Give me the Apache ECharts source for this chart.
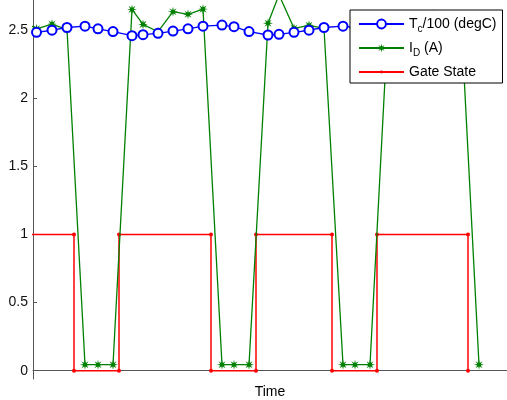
<!DOCTYPE html>
<html>
<head>
<meta charset="utf-8">
<script src="https://cdn.jsdelivr.net/npm/echarts@6/dist/echarts.min.js"></script>
<style>
  html, body { margin: 0; padding: 0; background: #fff; }
  #chart { width: 507px; height: 400px; }
</style>
</head>
<body>
<div id="chart"></div>
<script>
// sample times (arbitrary units)
var time = [-1.1, 0.35, 1.9, 3.4, 5.2, 6.5, 8.0, 9.9, 11.0, 12.5, 14.0, 15.5, 17.0, 18.9, 20.1, 21.6,
            23.5, 24.6, 26.1, 27.6, 29.1, 31.0, 32.2, 33.7, 35.5, 37.0, 38.5, 40.0, 41.4, 42.8, 44.6];
var tc = [2.47, 2.485, 2.50, 2.52, 2.53, 2.51, 2.49, 2.46, 2.467, 2.477, 2.494, 2.51, 2.53, 2.538, 2.526, 2.49,
          2.465, 2.47, 2.485, 2.50, 2.52, 2.53, 2.52, 2.50, 2.48, 2.47, 2.49, 2.51, 2.52, 2.50, 2.48];
var id = [2.57, 2.51, 2.545, 2.505, 0.044, 0.044, 0.044, 2.653, 2.543, 2.489, 2.636, 2.617, 2.655, 0.044, 0.044, 0.044,
          2.551, 2.76, 2.514, 2.536, 2.514, 0.044, 0.044, 0.044, 2.56, 2.6, 2.55, 2.62, 2.58, 2.6, 0.044];
var gateTime = [-1, 4.1, 4.1, 8.6, 8.6, 17.8, 17.8, 22.3, 22.3, 29.9, 29.9, 34.4, 34.4, 43.5, 43.5];
var gateState = [1, 1, 0, 0, 1, 1, 0, 0, 1, 1, 0, 0, 1, 1, 0];
var yTicks = [0, 0.5, 1, 1.5, 2, 2.5];

function pairs(xs, ys) {
  return xs.map(function (x, i) { return [x, ys[i]]; });
}

// asterisk-like marker
function starPath() {
  var pts = [];
  for (var k = 0; k < 16; k++) {
    var a = k * Math.PI / 8;
    var r = k % 2 === 0 ? 10 : 3.8;
    pts.push((10 + r * Math.sin(a)).toFixed(2) + ' ' + (10 - r * Math.cos(a)).toFixed(2));
  }
  return 'path://M' + pts.join(' L') + ' Z';
}
// small dot inside a larger empty box, so the legend dot stays small too
var dotPath = 'path://M0 0 M12 12 M4 6 A2 2 0 1 0 8 6 A2 2 0 1 0 4 6 Z';

var legendText = {
  'Tc/100 (degC)': 'T{sub|c}/100 (degC)',
  'ID (A)': 'I{sub|D} (A)',
  'Gate State': 'Gate State'
};

var chart = echarts.init(document.getElementById('chart'), null, {renderer: 'canvas'});
chart.setOption({
  animation: false,
  textStyle: {fontFamily: 'Liberation Sans'},
  grid: {left: 33, right: 0, top: 0, bottom: 21, containLabel: false, outerBoundsMode: 'none'},
  legend: {
    orient: 'vertical',
    left: 350,
    top: 10,
    padding: [7, 6, 4, 8],
    itemWidth: 45,
    itemHeight: 11,
    itemGap: 7,
    borderColor: '#000',
    borderWidth: 1,
    backgroundColor: '#fff',
    formatter: function (name) { return legendText[name]; },
    textStyle: {
      fontSize: 14, color: '#000', fontFamily: 'Liberation Sans',
      rich: {
        sub: {fontSize: 10, verticalAlign: 'bottom', padding: [10, 0, 0, 0], fontFamily: 'Liberation Sans'}
      }
    },
    data: ['Tc/100 (degC)', 'ID (A)', 'Gate State']
  },
  xAxis: {
    type: 'value',
    min: 0,
    max: 47.4,
    name: 'Time',
    nameLocation: 'middle',
    nameGap: 6,
    nameTextStyle: {fontSize: 14, color: '#000', verticalAlign: 'top'},
    axisLine: {lineStyle: {color: '#555', width: 1}},
    axisTick: {show: false},
    axisLabel: {show: false},
    splitLine: {show: false}
  },
  yAxis: {
    type: 'value',
    min: -0.061,
    max: 2.722,
    axisLine: {show: true, lineStyle: {color: '#555', width: 1}},
    axisTick: {show: true, inside: true, length: 4, customValues: yTicks, lineStyle: {color: '#555'}},
    axisLabel: {customValues: yTicks, fontSize: 14, color: '#111', margin: 5},
    splitLine: {show: false}
  },
  series: [
    {
      name: 'Tc/100 (degC)',
      type: 'line',
      data: pairs(time, tc),
      symbol: 'emptyCircle',
      symbolSize: 9,
      lineStyle: {color: '#0000ff', width: 1.3},
      itemStyle: {color: '#0000ff', borderWidth: 1},
      z: 3
    },
    {
      name: 'ID (A)',
      type: 'line',
      data: pairs(time, id),
      symbol: starPath(),
      symbolSize: 10,
      lineStyle: {color: '#008000', width: 1.3},
      itemStyle: {color: '#008000'},
      z: 2
    },
    {
      name: 'Gate State',
      type: 'line',
      data: pairs(gateTime, gateState),
      symbol: dotPath,
      symbolSize: 12,
      lineStyle: {color: '#ff0000', width: 1.5},
      itemStyle: {color: '#ff0000'},
      z: 1
    }
  ]
});
</script>
</body>
</html>
